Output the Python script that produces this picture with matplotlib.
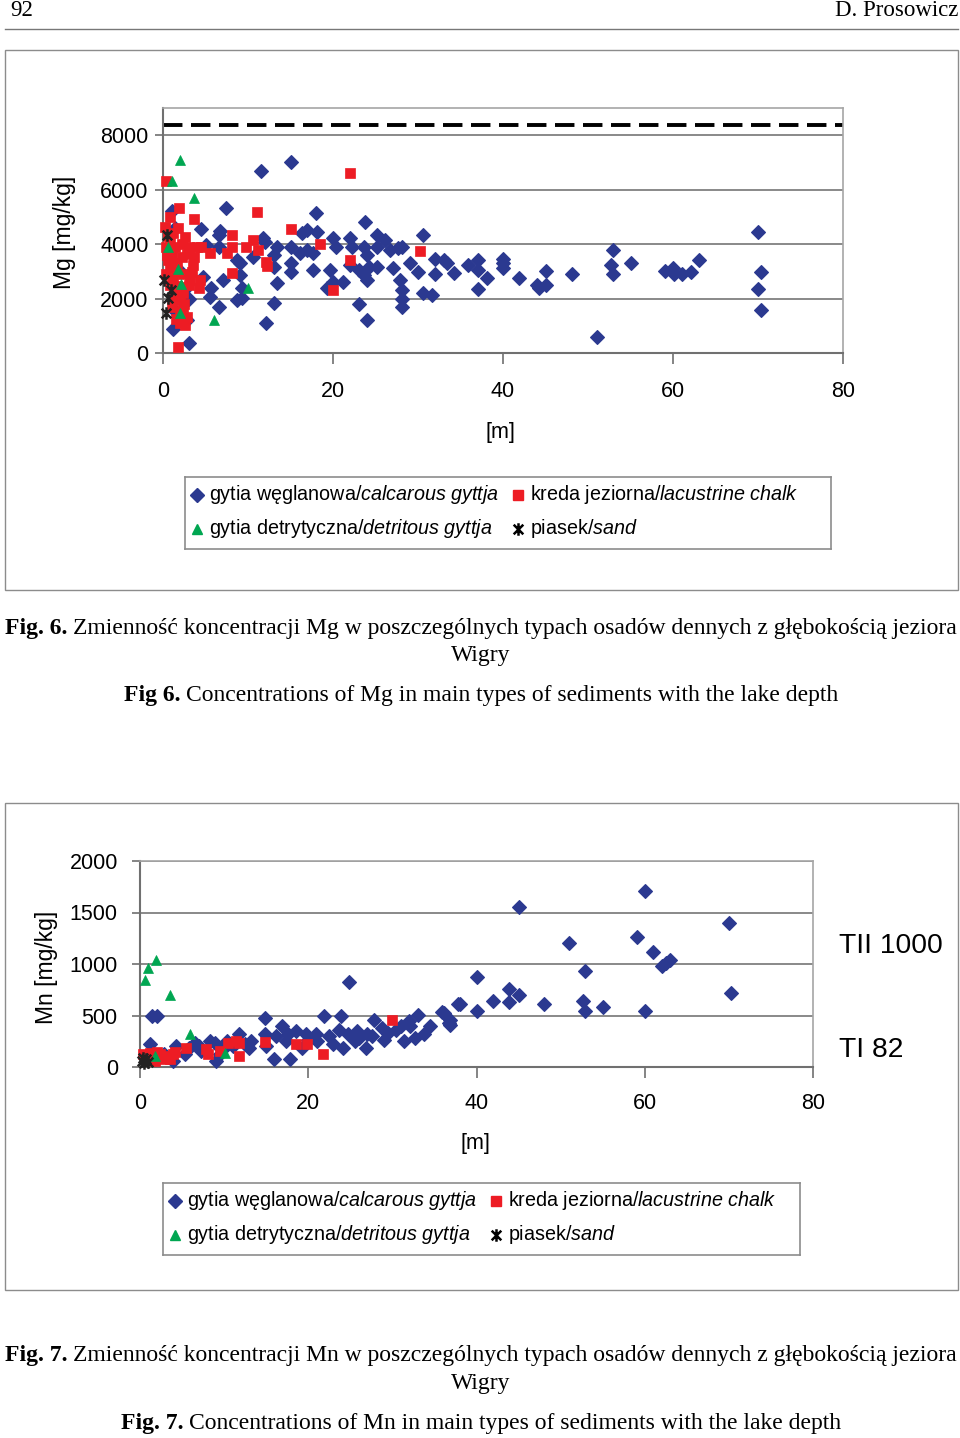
import numpy as np
import matplotlib
matplotlib.use('Agg')
import matplotlib.pyplot as plt
from matplotlib.lines import Line2D
from matplotlib.patches import Rectangle
from matplotlib.path import Path

plt.rcParams['font.family'] = ['Liberation Sans', 'DejaVu Sans']
plt.rcParams['mathtext.fontset'] = 'custom'
plt.rcParams['mathtext.rm'] = 'Liberation Sans'
plt.rcParams['mathtext.it'] = 'Liberation Sans:italic'

# (depth [m], concentration [mg/kg])
mg_calcarous = np.array([
    (1.4, 4580), (4.5, 4540), (6.7, 4480), (6.6, 4330), (5.1, 3960), (6.6, 3900), (11.8, 4210),
    (12.0, 4080), (13.4, 3900), (15.1, 3900), (16.3, 4390), (16.9, 4510), (18.1, 4450), (16.1, 3660),
    (16.9, 3780), (17.7, 3660), (20.0, 4210), (20.4, 3900), (22.0, 4210), (22.2, 3900), (23.6, 3900),
    (24.0, 3600), (25.2, 4330), (25.2, 3900), (26.1, 4150), (26.7, 3780), (27.7, 3840), (28.1, 3900),
    (30.6, 4330), (32.0, 3470), (33.0, 3410), (33.4, 3290), (8.7, 3410), (9.1, 3290), (10.6, 3540),
    (13.0, 3600), (15.1, 3290), (13.0, 3170), (17.7, 3050), (19.6, 3050), (22.0, 3230), (23.0, 3050),
    (24.2, 3170), (25.2, 3170), (27.1, 3110), (29.1, 3290), (30.0, 2980), (32.0, 2920), (4.7, 2800),
    (7.0, 2680), (9.1, 2860), (13.4, 2580), (15.1, 2980), (19.3, 2370), (20.0, 2620), (21.2, 2620),
    (23.6, 2860), (24.0, 2680), (5.7, 2370), (5.5, 2070), (8.7, 1940), (9.3, 2010), (9.3, 2370),
    (27.9, 2680), (28.1, 2310), (30.6, 2190), (31.6, 2130), (6.6, 1700), (13.0, 1850), (23.1, 1800),
    (28.1, 1970), (28.1, 1700), (12.1, 1110), (24.0, 1210), (1.2, 900), (3.1, 380), (1.0, 5200),
    (2.0, 3000), (2.5, 2300), (1.5, 1500), (3.0, 2000), (2.8, 1200), (11.5, 6690), (15.1, 7020),
    (7.4, 5310), (18.0, 5160), (23.8, 4800), (34.2, 2950), (35.9, 3230), (37.1, 3410), (37.1, 3050),
    (38.1, 2740), (37.1, 2350), (40.0, 3440), (40.0, 3290), (40.0, 3110), (41.9, 2740), (44.0, 2490),
    (44.2, 2370), (45.1, 2490), (45.1, 3020), (48.1, 2900), (51.0, 600), (52.9, 3800), (52.7, 3230),
    (52.9, 2900), (55.0, 3290), (59.1, 3010), (60.0, 3110), (60.1, 2920), (61.0, 2920), (62.1, 2960),
    (63.1, 3410), (70.0, 4450), (70.4, 2960), (70.0, 2350), (70.4, 1580),
])
mg_chalk = np.array([
    (22.0, 6620), (0.4, 6310), (1.9, 5310), (0.8, 5000), (3.65, 4920), (11.0, 5190), (8.1, 4330),
    (15.1, 4540), (18.5, 4000), (30.2, 3740), (22.0, 3410), (12.1, 3350), (12.2, 3200), (20.0, 2310),
    (8.1, 2950), (5.5, 3690), (7.5, 3690), (8.1, 3900), (9.8, 3900), (10.6, 4150), (11.2, 3800),
    (0.2, 4640), (0.8, 4150), (1.4, 3900), (2.6, 4270), (3.0, 3900), (4.0, 3900), (3.6, 3530),
    (2.2, 3530), (1.6, 3290), (0.8, 3170), (0.4, 2920), (3.4, 2980), (4.35, 2680), (4.2, 2370),
    (3.2, 2680), (2.0, 2430), (2.0, 1940), (2.4, 1700), (2.8, 1330), (2.6, 1030), (1.6, 2190),
    (1.0, 3660), (0.6, 3410), (1.8, 210), (1.2, 4390), (2.2, 4020), (0.3, 3900), (0.5, 3600),
    (1.0, 3300), (1.5, 3000), (1.2, 2700), (0.8, 2500), (1.6, 2450), (2.3, 2200), (1.2, 2000),
    (2.5, 1800), (1.0, 1700), (2.0, 1550), (1.5, 1250), (2.0, 1100), (0.6, 4300), (1.8, 4600),
    (2.8, 3650), (3.5, 3250), (4.5, 3900), (2.4, 2900), (3.0, 2500),
])
mg_detritous = np.array([
    (2.0, 7080), (1.1, 6310), (3.65, 5700), (0.6, 3900), (1.8, 3070), (2.1, 2530), (2.0, 1460),
    (6.0, 1230), (10.0, 2370),
])
mg_sand = np.array([(0.5, 4330), (0.1, 2680), (0.9, 2310), (0.6, 2030), (0.35, 1480)])

mn_calcarous = np.array([
    (1.4, 500), (2.0, 500), (24.8, 823), (14.8, 477), (21.9, 500), (23.9, 500), (37.8, 616),
    (35.9, 535), (36.7, 429), (16.9, 397), (27.8, 461), (32.0, 445), (33.0, 503), (32.1, 397),
    (32.7, 284), (31.4, 252), (33.7, 323), (15.9, 74), (17.8, 74), (9.0, 58), (26.9, 187),
    (24.1, 187), (22.9, 219), (4.3, 203), (5.3, 123), (6.5, 235), (7.3, 155), (8.3, 252), (8.9, 235),
    (10.4, 252), (11.8, 316), (13.2, 252), (13.0, 187), (14.8, 316), (16.2, 300), (17.6, 316),
    (17.4, 252), (19.3, 187), (19.7, 316), (20.9, 316), (22.5, 300), (23.7, 364), (24.7, 316),
    (25.8, 348), (27.0, 316), (27.6, 300), (28.8, 381), (30.4, 364), (3.9, 58), (1.2, 219),
    (2.8, 123), (18.5, 350), (21.0, 250), (25.5, 250), (29.5, 330), (34.5, 400), (26.0, 280),
    (12.5, 220), (7.0, 200), (10.0, 180), (15.0, 200), (20.0, 260), (29.0, 260), (31.0, 400),
    (11.0, 200), (5.8, 180), (9.5, 130), (60.0, 1707), (45.0, 1552), (70.0, 1400), (59.1, 1260),
    (51.0, 1205), (61.0, 1118), (62.0, 985), (63.0, 1034), (62.5, 1011), (40.1, 875), (52.9, 930),
    (43.9, 758), (45.0, 703), (70.2, 719), (38.0, 616), (42.0, 638), (43.9, 632), (48.0, 616),
    (52.7, 638), (52.9, 548), (55.0, 583), (60.0, 548), (40.1, 548), (36.1, 525), (36.9, 460),
    (36.9, 411),
])
mn_chalk = np.array([
    (14.8, 242), (18.5, 226), (19.9, 226), (21.8, 129), (11.8, 106), (10.5, 235), (11.4, 252),
    (11.8, 235), (9.5, 155), (7.8, 171), (8.1, 123), (5.5, 187), (3.9, 123), (3.2, 106), (2.4, 123),
    (1.2, 139), (0.4, 123), (3.55, 74), (1.8, 58), (2.8, 74), (29.9, 461), (0.8, 80), (2.0, 150),
    (4.2, 150),
])
mn_detritous = np.array([(0.6, 848), (1.0, 961), (1.9, 1035), (3.55, 703), (5.9, 323), (10.1, 139), (1.8, 106)])
mn_sand = np.array([(0.2, 60), (0.5, 40), (0.7, 75), (0.3, 90), (0.9, 50)])

depth_ticks = [0, 20, 40, 60, 80]
mg_ticks = [0, 2000, 4000, 6000, 8000]
mn_ticks = [0, 500, 1000, 1500, 2000]
mg_limit = 8370
mn_side_labels = ['TII 1000', 'TI 82']

legend_items = [('gytia węglanowa/', 'calcarous gyttja'), ('gytia detrytyczna/', 'detritous gyttja'),
                ('kreda jeziorna/', 'lacustrine chalk'), ('piasek/', 'sand')]

BLUE = '#2b3990'
RED = '#ed1c24'
GREEN = '#00a651'
GRID = '#808080'

W, H = 960, 1438
fig = plt.figure(figsize=(W / 100, H / 100), dpi=100)
renderer = fig.canvas.get_renderer()

sand_marker = Path([(-1, -1), (1, 1), (-1, 1), (1, -1), (0, -1.3), (0, 1.3)],
                   [Path.MOVETO, Path.LINETO] * 3)


def px_box(x0, y0, x1, y1):
    return [x0 / W, 1 - y1 / H, (x1 - x0) / W, (y1 - y0) / H]


def ftext(x, y, s, **kw):
    return fig.text(x / W, 1 - y / H, s, **kw)


def frame(x0, y0, x1, y1):
    fig.add_artist(Rectangle((x0 / W, 1 - y1 / H), (x1 - x0) / W, (y1 - y0) / H,
                             transform=fig.transFigure, fill=False, ec='#8c8c8c', lw=1))


def style_axes(ax, ymax, yticks, xpad, ypad):
    ax.set_xlim(0, 80)
    ax.set_ylim(0, ymax)
    ax.set_xticks(depth_ticks)
    ax.set_yticks(yticks)
    ax.yaxis.grid(True, color=GRID, lw=1.3)
    ax.set_axisbelow(True)
    for s in ['top', 'right']:
        ax.spines[s].set_color('#a6a6a6')
        ax.spines[s].set_linewidth(1.2)
    for s in ['left', 'bottom']:
        ax.spines[s].set_color('#707070')
        ax.spines[s].set_linewidth(1.5)
    ax.tick_params(axis='x', length=8, width=1.2, color='#707070', pad=xpad, labelsize=15.5)
    ax.tick_params(axis='y', length=6, width=1.2, color='#707070', pad=ypad, labelsize=15.5)


def draw_points(ax, calc, detr, chalk, sand, sizes):
    ax.plot(calc[:, 0], calc[:, 1], ls='none', marker='D', ms=sizes[0], mfc=BLUE, mec=BLUE,
            mew=0.8, clip_on=False, zorder=3)
    ax.plot(chalk[:, 0], chalk[:, 1], ls='none', marker='s', ms=sizes[1], mfc=RED, mec=RED,
            mew=0.5, clip_on=False, zorder=4)
    ax.plot(detr[:, 0], detr[:, 1], ls='none', marker='^', ms=sizes[2], mfc=GREEN, mec=GREEN,
            mew=0.5, clip_on=False, zorder=5)
    ax.plot(sand[:, 0], sand[:, 1], ls='none', marker=sand_marker, ms=sizes[3], mfc='none',
            mec='#222222', mew=1.8, clip_on=False, zorder=6)


def legend_box(x0, y0, x1, y1):
    lax = fig.add_axes(px_box(x0, y0, x1, y1))
    lax.set_xlim(0, x1 - x0)
    lax.set_ylim(y1 - y0, 0)
    lax.set_xticks([])
    lax.set_yticks([])
    for s in lax.spines.values():
        s.set_color('#8c8c8c')
        s.set_linewidth(1.2)
    rows = [17.5, 51.5]
    spots = [(12, rows[0]), (12, rows[1]), (333, rows[0]), (333, rows[1])]
    styles = [dict(marker='D', ms=6.8, color=BLUE), dict(marker='^', ms=7.2, color=GREEN),
              dict(marker='s', ms=6.5, color=RED),
              dict(marker=sand_marker, ms=9, mfc='none', mec='black', mew=1.8)]
    for (mx, my), st, (pl, en) in zip(spots, styles, legend_items):
        lax.plot([mx], [my], ls='none', **st)
        label = pl + r'$\mathit{' + en.replace(' ', r'\ ') + '}$'
        lax.text(mx + 12, my, label, fontsize=14.2, va='center', ha='left')


SERIF = 'Liberation Serif'


def text_width(s, size, weight):
    t = fig.text(0, 0, s, fontsize=size, fontweight=weight, family=SERIF)
    w = t.get_window_extent(renderer).width
    t.remove()
    return w


def caption(parts, y, size, x=None, center=None):
    gap = 0.25 * size * 100 / 72
    widths = [text_width(s, size, wt) for s, wt in parts]
    total = sum(widths) + gap * (len(parts) - 1)
    if center is not None:
        x = center - total / 2
    for (s, wt), w in zip(parts, widths):
        ftext(x, y, s, fontsize=size, fontweight=wt, family=SERIF, va='center', ha='left')
        x += w + gap
    return total


def fit_size(parts, width, size=16):
    gap = 0.25 * size * 100 / 72
    total = sum(text_width(s, size, wt) for s, wt in parts) + gap * (len(parts) - 1)
    return size * width / total


# page header
ftext(10, 11, '92', fontsize=16.5, family=SERIF, va='center', ha='left')
ftext(958, 11, 'D. Prosowicz', fontsize=16.5, family=SERIF, va='center', ha='right')
fig.add_artist(Line2D([5 / W, 958 / W], [1 - 29 / H, 1 - 29 / H], color='#777777', lw=1))

# ---- Fig. 6: Mg ----
frame(5, 50, 958, 590)
ax1 = fig.add_axes(px_box(163, 108, 843, 353))
style_axes(ax1, 9000, mg_ticks, xpad=12, ypad=4.5)
ax1.axhline(mg_limit, color='black', lw=2.8, dashes=(5.0, 2.2), zorder=2)
draw_points(ax1, mg_calcarous, mg_detritous, mg_chalk, mg_sand, (6.8, 7.0, 7.6, 9.0))
ftext(65, 232, 'Mg [mg/kg]', rotation=90, fontsize=16.5, ha='center', va='center')
ftext(500, 432, '[m]', fontsize=15.5, ha='center', va='center')
legend_box(185, 477, 831, 549)

cap1 = [('Fig. 6.', 'bold'), ('Zmienność koncentracji Mg w poszczególnych typach osadów dennych z głębokością jeziora', 'normal')]
csize = fit_size(cap1, 953)
caption(cap1, 628, csize, x=5)
caption([('Wigry', 'normal')], 655, csize, center=481)
caption([('Fig 6.', 'bold'), ('Concentrations of Mg in main types of sediments with the lake depth', 'normal')],
        696, csize, center=481)

# ---- Fig. 7: Mn ----
frame(5, 803, 958, 1290)
ax2 = fig.add_axes(px_box(140, 861, 813, 1067))
style_axes(ax2, 2000, mn_ticks, xpad=11, ypad=10)
draw_points(ax2, mn_calcarous, mn_detritous, mn_chalk, mn_sand, (7.0, 7.0, 7.6, 9.0))
ftext(47, 967, 'Mn [mg/kg]', rotation=90, fontsize=16.5, ha='center', va='center')
ftext(475, 1143, '[m]', fontsize=15.5, ha='center', va='center')
ftext(839, 946, mn_side_labels[0], fontsize=20.3, ha='left', va='center')
ftext(839, 1050, mn_side_labels[1], fontsize=20.3, ha='left', va='center')
legend_box(163, 1183, 800, 1255)

cap2 = [('Fig. 7.', 'bold'), ('Zmienność koncentracji Mn w poszczególnych typach osadów dennych z głębokością jeziora', 'normal')]
caption(cap2, 1356, csize, x=5)
caption([('Wigry', 'normal')], 1383, csize, center=481)
caption([('Fig. 7.', 'bold'), ('Concentrations of Mn in main types of sediments with the lake depth', 'normal')],
        1423, csize, center=481)

fig.savefig('out.png', dpi=100)
